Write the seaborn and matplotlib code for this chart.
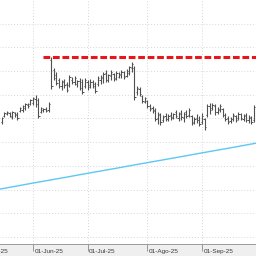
import numpy as np
import pandas as pd
import matplotlib
matplotlib.use("Agg")
import matplotlib.pyplot as plt
import matplotlib.transforms as mtransforms
import seaborn as sns

# ------------------------------------------------------------
# DATA (daily OHLC, one bar per trading day from 15-May-25)
# ------------------------------------------------------------

bar_high = [18.3, 18.8, 18.9, 18.8, 18.9, 18.8, 18.8, 19.3, 19.5, 19.7,
            19.7, 20.1, 20.3, 20.5, 20.2, 19.3, 19.2, 19.3, 19.8, 24.3,
            23.2, 22.8, 22.2, 22.0, 22.1, 21.8, 22.5, 22.3, 22.4, 22.0,
            22.2, 22.1, 22.2, 22.0, 22.1, 22.0, 21.8, 22.4, 22.5, 22.8,
            23.0, 22.6, 23.0, 22.7, 22.9, 22.8, 23.0, 22.9, 23.1, 23.4,
            23.8, 23.4, 21.4, 21.3, 20.5, 20.3, 20.0, 19.6, 19.4, 19.2,
            18.8, 18.7, 18.5, 18.7, 18.6, 18.8, 18.7, 19.0, 18.8, 19.0,
            18.8, 19.0, 19.2, 18.5, 18.3, 18.6, 18.4, 18.7, 18.2, 19.6,
            19.7, 19.7, 19.6, 19.3, 19.6, 19.2, 18.7, 18.4, 18.3, 18.7,
            18.5, 18.8, 18.7, 18.6, 18.7, 18.5, 18.4, 19.5]
bar_low = [17.6, 18.3, 18.5, 18.3, 18.1, 18.3, 18.0, 18.8, 18.8, 19.0,
           19.2, 19.5, 19.5, 19.3, 18.2, 18.7, 18.8, 18.8, 18.8, 21.1,
           22.0, 21.5, 21.2, 21.0, 21.2, 20.8, 21.3, 21.6, 21.5, 21.3,
           21.0, 20.6, 21.2, 21.0, 21.2, 21.2, 20.7, 21.4, 21.6, 21.7,
           21.8, 21.8, 22.0, 21.9, 22.0, 22.2, 22.2, 22.1, 22.3, 22.5,
           22.8, 20.0, 20.5, 20.4, 19.7, 19.7, 19.2, 18.9, 18.7, 17.9,
           17.6, 17.5, 17.8, 17.9, 17.9, 18.0, 18.1, 18.2, 17.9, 18.0,
           17.8, 18.2, 18.3, 17.5, 17.6, 17.7, 17.4, 17.6, 17.0, 18.3,
           18.6, 19.0, 18.5, 18.6, 18.8, 18.3, 17.9, 17.6, 17.7, 17.9,
           17.8, 18.0, 18.0, 17.9, 17.8, 17.7, 17.6, 17.8]
bar_open = [17.8, 18.4, 18.6, 18.7, 18.3, 18.7, 18.6, 18.9, 19.0, 19.2,
            19.5, 19.6, 19.7, 20.1, 20.0, 18.8, 19.0, 19.1, 19.0, 24.0,
            23.0, 22.5, 22.0, 21.4, 21.9, 21.6, 21.5, 22.0, 21.8, 21.6,
            21.9, 21.8, 21.4, 21.8, 21.5, 21.8, 21.6, 21.6, 22.0, 22.2,
            22.7, 22.0, 22.4, 22.6, 22.2, 22.3, 22.5, 22.8, 22.4, 22.7,
            23.2, 23.2, 20.8, 21.1, 20.4, 19.8, 19.9, 19.4, 19.2, 19.0,
            18.2, 18.5, 18.0, 18.4, 18.1, 18.5, 18.3, 18.8, 18.2, 18.7,
            18.2, 18.8, 18.5, 18.4, 17.8, 18.2, 18.0, 17.8, 18.1, 18.5,
            19.4, 19.2, 19.4, 18.8, 19.0, 19.1, 18.5, 18.2, 17.9, 18.1,
            18.4, 18.2, 18.6, 18.1, 18.5, 18.0, 18.2, 18.0]
bar_close = [18.2, 18.7, 18.8, 18.4, 18.8, 18.5, 18.2, 19.2, 19.4, 19.6,
             19.4, 20.0, 20.2, 19.6, 18.4, 19.2, 19.1, 18.9, 19.6, 21.4,
             22.2, 21.7, 21.4, 21.8, 21.5, 21.0, 22.3, 21.8, 22.2, 21.9,
             21.2, 20.8, 22.0, 21.3, 21.8, 21.4, 20.9, 22.2, 22.3, 22.6,
             22.0, 22.5, 22.8, 22.1, 22.7, 22.6, 22.8, 22.3, 22.9, 23.3,
             23.6, 20.3, 21.2, 20.6, 19.9, 20.2, 19.4, 19.1, 18.9, 18.1,
             18.6, 17.8, 18.3, 18.1, 18.4, 18.2, 18.6, 18.4, 18.6, 18.3,
             18.6, 18.4, 19.0, 17.7, 18.1, 18.0, 17.6, 18.4, 17.3, 19.4,
             19.0, 19.5, 18.8, 19.1, 19.4, 18.5, 18.1, 17.8, 18.1, 18.5,
             18.0, 18.6, 18.2, 18.4, 18.0, 18.3, 17.8, 19.3]

# long moving average, weekly readings (bar index, value)
ma_bar = [-1, 5, 10, 15, 20, 25, 30, 35, 40, 45, 50,
          55, 60, 65, 70, 75, 80, 85, 90, 95, 98]
ma_value = [11.08, 11.36, 11.60, 11.83, 12.06, 12.29, 12.53, 12.76, 12.99, 13.22, 13.46,
            13.69, 13.92, 14.15, 14.38, 14.62, 14.85, 15.08, 15.31, 15.55, 15.69]

# resistance level (top of the June gap bar)
resistance_level = 24.3
resistance_from_bar = 16

month_labels = ["01-May-25", "01-Jun-25", "01-Jul-25", "01-Ago-25", "01-Sep-25"]

# ------------------------------------------------------------
# TRADING-DAY INDEX
# ------------------------------------------------------------

all_days = pd.bdate_range("2025-05-01", "2025-09-30")
first_bar = list(all_days).index(pd.Timestamp("2025-05-15"))
day_pos = np.arange(len(all_days)) - first_bar
month_start = pd.Series(day_pos, index=all_days).groupby(all_days.month).min().values

pos = np.arange(len(bar_high))

# ------------------------------------------------------------
# PLOT
# ------------------------------------------------------------

sns.set_style("white")
plt.rcParams["font.family"] = ["Liberation Sans", "DejaVu Sans"]

fig = plt.figure(figsize=(2.56, 2.56), dpi=100, facecolor="#efefef")
ax = fig.add_axes([-40 / 256, 12 / 256, 296 / 256, 244 / 256])
ax.set_facecolor("white")

bar_col = "#505050"
ax.vlines(pos, bar_low, bar_high, colors=bar_col, lw=0.8, zorder=3)
ax.hlines(bar_open, pos - 0.5, pos, colors=bar_col, lw=0.7, zorder=3)
ax.hlines(bar_close, pos, pos + 0.5, colors=bar_col, lw=0.7, zorder=3)

sns.lineplot(x=ma_bar, y=ma_value, ax=ax, color="#5cc8f2", lw=1.0, zorder=2)

x_left, x_right = -16.08, 97.77
ax.plot([resistance_from_bar, x_right + 1], [resistance_level] * 2,
        color="#e8161b", lw=2.2, dashes=(2.2, 0.9), zorder=4,
        solid_capstyle="butt", dash_capstyle="butt")

ax.set_xlim(x_left, x_right)
ax.set_ylim(5.6, 30.0)
ax.set_yticks(np.arange(6.3, 29.0, 2.37))
ax.set_xticks(month_start)
ax.set_xticklabels(month_labels)

ax.grid(True, ls=(0, (1, 2)), color="#d6d6d6", lw=0.7)
ax.tick_params(axis="y", length=0, labelleft=False)
ax.tick_params(axis="x", length=5, width=0.6, color="#8a8a8a", pad=-1.5,
               labelsize=4.6, labelcolor="#3a3a3a", bottom=True)

shift = mtransforms.ScaledTranslation(1.5 / 100, 0, fig.dpi_scale_trans)
for lab in ax.get_xticklabels():
    lab.set_horizontalalignment("left")
    lab.set_transform(lab.get_transform() + shift)

for side in ["top", "right", "left"]:
    ax.spines[side].set_visible(False)
ax.spines["bottom"].set_color("#9a9a9a")
ax.spines["bottom"].set_linewidth(0.7)

fig.savefig("out.png", dpi=100, facecolor=fig.get_facecolor())
